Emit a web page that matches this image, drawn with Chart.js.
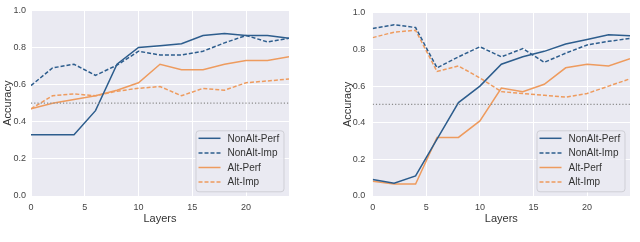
<!DOCTYPE html>
<html>
<head>
<meta charset="utf-8">
<script src="https://cdn.jsdelivr.net/npm/chart.js@4"></script>
<style>
  html, body { margin: 0; padding: 0; background: #fff; }
  body { width: 640px; height: 242px; position: relative; overflow: hidden; }
  .panel { position: absolute; top: 0; width: 320px; height: 242px; }
</style>
</head>
<body>
<div class="panel" style="left:0"><canvas id="leftChart"></canvas></div>
<div class="panel" style="left:320px"><canvas id="rightChart"></canvas></div>
<script>
// layers probed (every second layer)
const layers = [0, 2, 4, 6, 8, 10, 12, 14, 16, 18, 20, 22, 24];
const xTicks = [0, 5, 10, 15, 20];
const yTicks = [0, 0.2, 0.4, 0.6, 0.8, 1.0];
const chanceLevel = 0.5;
const seriesNames = ['NonAlt-Perf', 'NonAlt-Imp', 'Alt-Perf', 'Alt-Imp'];

// left panel
const nonAltPerfL = [0.33, 0.33, 0.33, 0.46, 0.71, 0.80, 0.81, 0.82, 0.865, 0.875, 0.865, 0.865, 0.85];
const nonAltImpL  = [0.595, 0.69, 0.71, 0.65, 0.705, 0.78, 0.76, 0.76, 0.78, 0.825, 0.865, 0.83, 0.85];
const altPerfL    = [0.47, 0.50, 0.52, 0.54, 0.57, 0.61, 0.71, 0.68, 0.68, 0.71, 0.73, 0.73, 0.75];
const altImpL     = [0.47, 0.54, 0.55, 0.54, 0.565, 0.58, 0.59, 0.54, 0.58, 0.57, 0.61, 0.62, 0.63];

// right panel
const nonAltPerfR = [0.09, 0.07, 0.11, 0.31, 0.51, 0.60, 0.72, 0.76, 0.79, 0.83, 0.855, 0.88, 0.875];
const nonAltImpR  = [0.915, 0.935, 0.92, 0.70, 0.76, 0.815, 0.76, 0.805, 0.73, 0.78, 0.825, 0.845, 0.86];
const altPerfR    = [0.08, 0.065, 0.065, 0.32, 0.32, 0.41, 0.59, 0.57, 0.61, 0.70, 0.72, 0.71, 0.75];
const altImpR     = [0.865, 0.895, 0.905, 0.68, 0.71, 0.645, 0.57, 0.56, 0.55, 0.54, 0.56, 0.60, 0.64];

const BLUE = '#2d5d8d';
const ORANGE = '#ee9b5e';
const DASH = [4, 2];
const FONT = '"Liberation Sans", Arial, sans-serif';

Chart.defaults.font.family = FONT;
Chart.defaults.animation = false;

const styles = [
  { color: BLUE, dash: [] },
  { color: BLUE, dash: DASH },
  { color: ORANGE, dash: [] },
  { color: ORANGE, dash: DASH },
];

const toPoints = vals => vals.map((v, i) => ({ x: layers[i], y: v }));

// grey plot background
const bgPlugin = {
  id: 'plotBg',
  beforeDraw(chart) {
    const { ctx, chartArea: a } = chart;
    ctx.save();
    ctx.fillStyle = '#eaeaf2';
    ctx.fillRect(a.left, a.top, a.right - a.left, a.bottom - a.top);
    ctx.restore();
  },
};

// legend box in the lower right corner, seaborn style
const legendPlugin = {
  id: 'cornerLegend',
  afterDatasetsDraw(chart) {
    const { ctx, chartArea: a } = chart;
    const w = 88, h = 61;
    const bx = a.right - 5.5 - w, by = a.bottom - 4.7 - h;
    ctx.save();
    ctx.beginPath();
    ctx.roundRect(bx + 0.5, by + 0.5, w, h, 3);
    ctx.fillStyle = 'rgba(234,234,242,0.85)';
    ctx.fill();
    ctx.strokeStyle = '#cfcfd6';
    ctx.lineWidth = 1;
    ctx.stroke();
    ctx.font = '10px ' + FONT;
    ctx.textBaseline = 'middle';
    seriesNames.forEach((name, i) => {
      const y = by + 8 + i * 14.6;
      ctx.beginPath();
      ctx.setLineDash(styles[i].dash);
      ctx.strokeStyle = styles[i].color;
      ctx.lineWidth = 1.5;
      ctx.moveTo(bx + 3, y);
      ctx.lineTo(bx + 25, y);
      ctx.stroke();
      ctx.setLineDash([]);
      ctx.fillStyle = '#333';
      ctx.fillText(name, bx + 32, y + 0.5);
    });
    ctx.restore();
  },
};

function makeChart(id, series, pad, yPad) {
  const datasets = series.map((vals, i) => ({
    label: seriesNames[i],
    data: toPoints(vals),
    borderColor: styles[i].color,
    borderDash: styles[i].dash,
    borderWidth: 1.5,
    pointRadius: 0,
    tension: 0,
    fill: false,
  }));
  datasets.unshift({
    label: 'chance',
    data: [{ x: 0, y: chanceLevel }, { x: 24, y: chanceLevel }],
    borderColor: '#8c8c8c',
    borderDash: [1.2, 2],
    borderWidth: 1.2,
    pointRadius: 0,
  });

  return new Chart(document.getElementById(id), {
    type: 'line',
    data: { datasets },
    options: {
      responsive: true,
      maintainAspectRatio: false,
      layout: { padding: pad },
      plugins: { legend: { display: false }, tooltip: { enabled: false } },
      scales: {
        x: {
          type: 'linear',
          min: 0,
          max: 24,
          afterBuildTicks: s => { s.ticks = xTicks.map(v => ({ value: v })); },
          afterFit: s => { s.height = 30; },
          grid: { color: '#fff', lineWidth: 1, drawTicks: false },
          border: { display: false },
          ticks: { color: '#444', font: { size: 9 }, padding: 6 },
          title: { display: true, text: 'Layers', color: '#333', font: { size: 11 }, padding: 0 },
        },
        y: {
          min: 0,
          max: 1,
          afterBuildTicks: s => { s.ticks = yTicks.map(v => ({ value: v })); },
          afterFit: s => { s.width = yPad.width; },
          grid: { color: '#fff', lineWidth: 1, drawTicks: false },
          border: { display: false },
          ticks: {
            color: '#444',
            font: { size: 9 },
            padding: yPad.tick,
            callback: v => v.toFixed(1),
          },
          title: { display: true, text: 'Accuracy', color: '#333', font: { size: 11 }, padding: { top: 1.4, bottom: 0 } },
        },
      },
    },
    plugins: [bgPlugin, legendPlugin],
  });
}

makeChart('leftChart', [nonAltPerfL, nonAltImpL, altPerfL, altImpL],
  { top: 4, right: 31, bottom: 16, left: 0 }, { width: 31, tick: 5 });
makeChart('rightChart', [nonAltPerfR, nonAltImpR, altPerfR, altImpR],
  { top: 4, right: 10, bottom: 16, left: 20 }, { width: 32.7, tick: 7.5 });
</script>
</body>
</html>
